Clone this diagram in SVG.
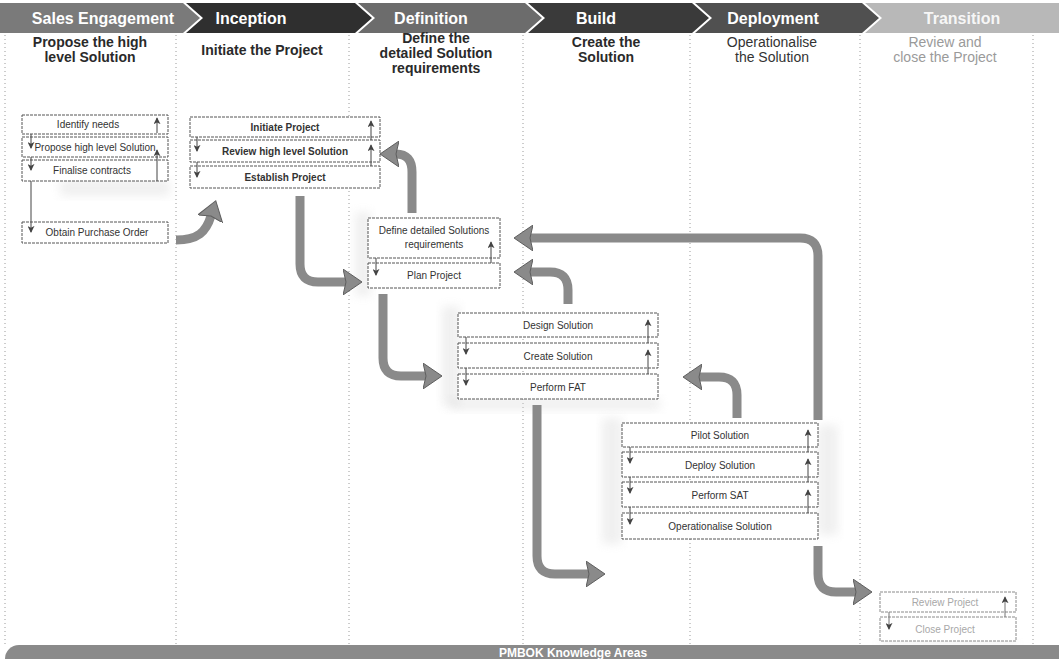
<svg xmlns="http://www.w3.org/2000/svg" width="1059" height="659" viewBox="0 0 1059 659">
  <style>
    .phase { font-family: "Liberation Sans", Arial, sans-serif; font-size: 16px; font-weight: bold; fill: #ffffff; text-anchor: middle; }
    .title { font-family: "Liberation Sans", Arial, sans-serif; font-size: 14px; font-weight: bold; fill: #2a2a2a; text-anchor: middle; }
    .title-light { font-family: "Liberation Sans", Arial, sans-serif; font-size: 14px; fill: #333333; text-anchor: middle; }
    .title-faint { font-family: "Liberation Sans", Arial, sans-serif; font-size: 14px; fill: #9a9a9a; text-anchor: middle; }
    .sep { stroke: #9a9a9a; stroke-width: 1; stroke-dasharray: 1 3; fill: none; }
    .box { fill: #ffffff; stroke: #555555; stroke-width: 1; stroke-dasharray: 3 1; }
    .box-faint { fill: #ffffff; stroke: #8a8a8a; stroke-width: 1; stroke-dasharray: 3 1; }
    .lbl { font-family: "Liberation Sans", Arial, sans-serif; font-size: 10px; fill: #333333; text-anchor: middle; }
    .lbl-b { font-family: "Liberation Sans", Arial, sans-serif; font-size: 10px; font-weight: bold; fill: #333333; text-anchor: middle; }
    .lbl-faint { font-family: "Liberation Sans", Arial, sans-serif; font-size: 10px; fill: #a8a8a8; text-anchor: middle; }
    .step { stroke: #444444; stroke-width: 1; fill: none; marker-end: url(#tick); }
    .step-faint { stroke: #777777; stroke-width: 1; fill: none; marker-end: url(#tick); }
    .flow { stroke: #8a8a8a; stroke-width: 9; fill: none; marker-end: url(#head); }
    .haze { fill: #d4d4d4; opacity: 0.35; filter: url(#soft); }
  </style>
  <defs>
    <filter id="soft" x="-30%" y="-30%" width="160%" height="160%">
      <feGaussianBlur stdDeviation="5"/>
    </filter>
    <marker id="tick" viewBox="0 0 8 8" refX="7" refY="4" markerWidth="7" markerHeight="7" markerUnits="userSpaceOnUse" orient="auto">
      <path d="M0,0 L8,4 L0,8 L2,4 Z" fill="#444444"/>
    </marker>
    <marker id="head" viewBox="0 0 20 26" refX="3" refY="13" markerWidth="20" markerHeight="26" markerUnits="userSpaceOnUse" orient="auto">
      <polygon points="0,0 19,13 0,26 3,13" fill="#8a8a8a" stroke="#5e5e5e" stroke-width="1"/>
    </marker>
  </defs>

  <rect width="1059" height="659" fill="#ffffff"/>

  <!-- phase chevrons -->
  <g id="phases">
    <polygon points="0,3 183,3 200,18 183,33 0,33" fill="#7a7a7a"/>
    <polygon points="186,3 355,3 372,18 355,33 186,33 203,18" fill="#2f2f2f"/>
    <polygon points="358,3 525,3 542,18 525,33 358,33 375,18" fill="#6c6c6c"/>
    <polygon points="528,3 692,3 709,18 692,33 528,33 545,18" fill="#3a3a3a"/>
    <polygon points="695,3 862,3 879,18 862,33 695,33 712,18" fill="#505050"/>
    <polygon points="865,3 1059,3 1059,33 865,33 882,18" fill="#b8b8b8"/>
    <text class="phase" x="103" y="24">Sales Engagement</text>
    <text class="phase" x="251" y="24">Inception</text>
    <text class="phase" x="431" y="24">Definition</text>
    <text class="phase" x="596" y="24">Build</text>
    <text class="phase" x="773" y="24">Deployment</text>
    <text class="phase" x="962" y="24" fill-opacity="0.9">Transition</text>
  </g>

  <!-- column separators -->
  <g id="columns">
    <line class="sep" x1="5" y1="35" x2="5" y2="645"/>
    <line class="sep" x1="176" y1="35" x2="176" y2="645"/>
    <line class="sep" x1="349" y1="35" x2="349" y2="645"/>
    <line class="sep" x1="523" y1="35" x2="523" y2="645"/>
    <line class="sep" x1="690" y1="35" x2="690" y2="645"/>
    <line class="sep" x1="860" y1="35" x2="860" y2="645"/>
    <line class="sep" x1="1033" y1="35" x2="1033" y2="645"/>
  </g>

  <!-- column titles -->
  <g id="titles">
    <text class="title" x="90" y="47">Propose the high</text>
    <text class="title" x="90" y="62">level Solution</text>
    <text class="title" x="262" y="55">Initiate the Project</text>
    <text class="title" x="436" y="43">Define the</text>
    <text class="title" x="436" y="58">detailed Solution</text>
    <text class="title" x="436" y="73">requirements</text>
    <text class="title" x="606" y="47">Create the</text>
    <text class="title" x="606" y="62">Solution</text>
    <text class="title-light" x="772" y="47">Operationalise</text>
    <text class="title-light" x="772" y="62">the Solution</text>
    <text class="title-faint" x="945" y="47">Review and</text>
    <text class="title-faint" x="945" y="62">close the Project</text>
  </g>

  <!-- soft shading behind activity groups -->
  <g id="shading">
    <rect class="haze" x="60" y="180" width="110" height="16"/>
    <rect class="haze" x="355" y="212" width="16" height="84"/>
    <rect class="haze" x="442" y="306" width="18" height="100"/>
    <rect class="haze" x="450" y="398" width="210" height="12"/>
    <rect class="haze" x="602" y="418" width="20" height="126"/>
    <rect class="haze" x="818" y="425" width="20" height="110"/>
    <rect class="haze" x="880" y="640" width="136" height="6"/>
  </g>

  <!-- Sales Engagement -->
  <g id="identify-needs">
    <rect class="box" x="22" y="115" width="146" height="19"/>
    <text class="lbl" x="88" y="128">Identify needs</text>
  </g>
  <g id="propose-solution">
    <rect class="box" x="22" y="137" width="146" height="20"/>
    <text class="lbl" x="95" y="151">Propose high level Solution</text>
  </g>
  <g id="finalise-contracts">
    <rect class="box" x="22" y="160" width="146" height="21"/>
    <text class="lbl" x="92" y="174">Finalise contracts</text>
  </g>
  <g id="obtain-po">
    <rect class="box" x="22" y="222" width="146" height="21"/>
    <text class="lbl" x="97" y="236">Obtain Purchase Order</text>
  </g>

  <!-- Inception -->
  <g id="initiate-project">
    <rect class="box" x="190" y="117" width="190" height="20"/>
    <text class="lbl-b" x="285" y="131">Initiate Project</text>
  </g>
  <g id="review-solution">
    <rect class="box" x="190" y="140" width="190" height="22"/>
    <text class="lbl-b" x="285" y="155">Review high level Solution</text>
  </g>
  <g id="establish-project">
    <rect class="box" x="190" y="166" width="190" height="22"/>
    <text class="lbl-b" x="285" y="181">Establish Project</text>
  </g>

  <!-- Definition -->
  <g id="define-requirements">
    <rect class="box" x="368" y="218" width="132" height="40"/>
    <text class="lbl" x="434" y="234">Define detailed Solutions</text>
    <text class="lbl" x="434" y="248">requirements</text>
  </g>
  <g id="plan-project">
    <rect class="box" x="368" y="263" width="132" height="25"/>
    <text class="lbl" x="434" y="279">Plan Project</text>
  </g>

  <!-- Build -->
  <g id="design-solution">
    <rect class="box" x="458" y="313" width="200" height="24"/>
    <text class="lbl" x="558" y="329">Design Solution</text>
  </g>
  <g id="create-solution">
    <rect class="box" x="458" y="343" width="200" height="25"/>
    <text class="lbl" x="558" y="360">Create Solution</text>
  </g>
  <g id="perform-fat">
    <rect class="box" x="458" y="374" width="200" height="25"/>
    <text class="lbl" x="558" y="391">Perform FAT</text>
  </g>

  <!-- Deployment -->
  <g id="pilot-solution">
    <rect class="box" x="622" y="423" width="196" height="24"/>
    <text class="lbl" x="720" y="439">Pilot Solution</text>
  </g>
  <g id="deploy-solution">
    <rect class="box" x="622" y="452" width="196" height="25"/>
    <text class="lbl" x="720" y="469">Deploy Solution</text>
  </g>
  <g id="perform-sat">
    <rect class="box" x="622" y="482" width="196" height="25"/>
    <text class="lbl" x="720" y="499">Perform SAT</text>
  </g>
  <g id="operationalise-solution">
    <rect class="box" x="622" y="513" width="196" height="26"/>
    <text class="lbl" x="720" y="530">Operationalise Solution</text>
  </g>

  <!-- Transition -->
  <g id="review-project">
    <rect class="box-faint" x="880" y="592" width="136" height="20"/>
    <text class="lbl-faint" x="945" y="606">Review Project</text>
  </g>
  <g id="close-project">
    <rect class="box-faint" x="880" y="617" width="136" height="24"/>
    <text class="lbl-faint" x="945" y="633">Close Project</text>
  </g>

  <!-- connectors -->
  <g id="connectors">
    <!-- step links inside each activity stack -->
    <path class="step" d="M157,133 V118"/>
    <path class="step" d="M31,134 V148"/>
    <path class="step" d="M31,157 V170"/>
    <path class="step" d="M157,181 V150"/>
    <path class="step" d="M31,181 V232"/>

    <path class="step" d="M371,140 V121"/>
    <path class="step" d="M371,166 V145"/>
    <path class="step" d="M197,137 V151"/>
    <path class="step" d="M197,162 V177"/>

    <path class="step" d="M491,263 V242"/>
    <path class="step" d="M376,258 V275"/>

    <path class="step" d="M648,343 V320"/>
    <path class="step" d="M648,374 V350"/>
    <path class="step" d="M466,337 V354"/>
    <path class="step" d="M466,368 V385"/>

    <path class="step" d="M808,452 V430"/>
    <path class="step" d="M808,482 V459"/>
    <path class="step" d="M808,513 V490"/>
    <path class="step" d="M630,447 V463"/>
    <path class="step" d="M630,477 V493"/>
    <path class="step" d="M630,507 V524"/>

    <path class="step-faint" d="M1005,617 V597"/>
    <path class="step-faint" d="M889,612 V629"/>

    <!-- hand-offs between phases -->
    <path class="flow" d="M176,240 C198,240 206,232 211,216"/>
    <path class="flow" d="M300,196 V264 Q300,282 318,282 H346"/>
    <path class="flow" d="M412,213 V172 Q412,154 396,154"/>
    <path class="flow" d="M383,294 V358 Q383,376 401,376 H426"/>
    <path class="flow" d="M568,304 V290 Q568,272 550,272 H530"/>
    <path class="flow" d="M818,420 V256 Q818,238 800,238 H530"/>
    <path class="flow" d="M737,418 V395 Q737,377 719,377 H699"/>
    <path class="flow" d="M537,405 V556 Q537,574 555,574 H589"/>
    <path class="flow" d="M818,546 V574 Q818,592 836,592 H856"/>
  </g>

  <!-- knowledge areas band -->
  <g id="knowledge-areas">
    <rect x="5" y="645" width="1080" height="30" rx="14" fill="#8a8a8a"/>
    <text x="573" y="657" font-family="Liberation Sans, Arial, sans-serif" font-size="12" font-weight="bold" fill="#ffffff" text-anchor="middle">PMBOK Knowledge Areas</text>
  </g>
</svg>
